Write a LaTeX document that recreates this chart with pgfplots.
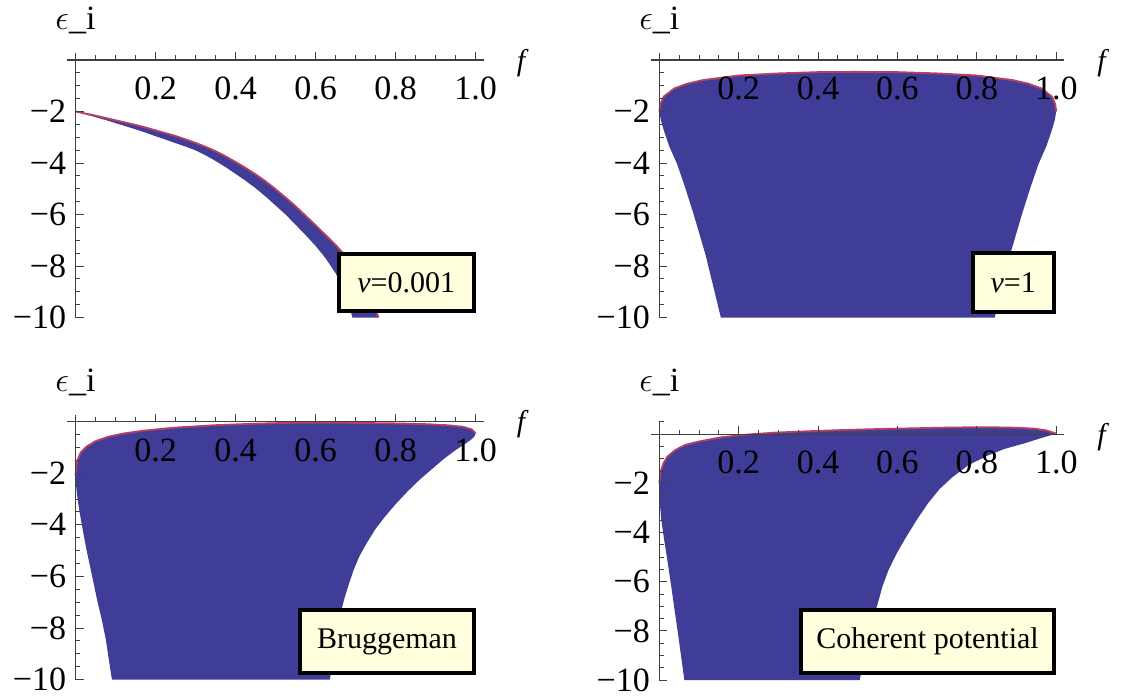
\documentclass[border=0pt]{standalone}
\usepackage{fontspec}
\setmainfont{Liberation Serif}
\usepackage{pgfplots}
\pgfplotsset{compat=1.18}

\definecolor{regfill}{HTML}{403D99}
\definecolor{regedge}{HTML}{B8405E}
\definecolor{boxfill}{HTML}{FFFFDD}

% #1 ymax, #2 height of the x axis in description coords, #3 shift of the y label
\pgfplotsset{
  epspanel/.style n args={3}{
    scale only axis, axis lines=middle,
    axis line style={-, black!75, line width=0.6pt},
    xmin=-0.02, xmax=1.02, ymin=-10, ymax=#1,
    xtick={0.2,0.4,0.6,0.8,1.0}, xticklabels={0.2,0.4,0.6,0.8,1.0},
    minor xtick={0.05,0.1,0.15,0.25,0.3,0.35,0.45,0.5,0.55,0.65,0.7,0.75,0.85,0.9,0.95},
    ytick={-10,-8,-6,-4,-2}, yticklabels={−10,−8,−6,−4,−2},
    minor ytick={-9.5,-9,-8.5,-7.5,-7,-6.5,-5.5,-5,-4.5,-3.5,-3,-2.5,-1.5,-1,-0.5,0.5},
    tick align=inside,
    major tick length=4pt, minor tick length=2.3pt,
    tick style={black!75, line width=0.5pt},
    tick label style={font=\fontsize{17}{20}\selectfont},
    xticklabel style={anchor=north, yshift=-5pt},
    yticklabel style={anchor=east, xshift=-1.2pt},
    axis on top,
    xlabel={\textit{f}}, ylabel={$\epsilon$\_i},
    xlabel style={font=\fontsize{15}{18}\selectfont,
      at={(axis description cs:1,#2)}, anchor=center, xshift=19.5pt, yshift=-1.5pt},
    ylabel style={font=\fontsize{17}{20}\selectfont,
      at={(axis description cs:0.01923,1)}, anchor=base, yshift=#3, rotate=0},
  },
  region/.style={fill=regfill, draw=none},
  edge/.style={regedge, line width=0.9pt},
}

\begin{document}
\begin{tikzpicture}
\path[use as bounding box] (0,0) rectangle (563pt,349pt);

% nu = 0.001
\begin{axis}[epspanel={0.28}{0.9728}{11.5pt}, at={(33.75pt,190.25pt)}, anchor=south west,
  width=208.1pt, height=132.35pt]
\addplot[region] coordinates {
  (0,-2.00) (0.025,-2.08) (0.05,-2.16) (0.075,-2.25) (0.1,-2.34) (0.125,-2.43)
  (0.15,-2.52) (0.175,-2.62) (0.2,-2.73) (0.225,-2.84) (0.25,-2.95) (0.275,-3.08)
  (0.3,-3.22) (0.325,-3.37) (0.35,-3.54) (0.375,-3.74) (0.4,-3.96) (0.425,-4.19)
  (0.45,-4.44) (0.475,-4.71) (0.5,-5.02) (0.525,-5.34) (0.55,-5.68) (0.575,-6.05)
  (0.6,-6.42) (0.625,-6.8) (0.65,-7.18) (0.675,-7.62) (0.7,-8.15) (0.72,-8.7)
  (0.74,-9.35) (0.757,-10)
  (0.692,-10) (0.675,-9.07) (0.65,-8.28) (0.625,-7.7) (0.6,-7.22) (0.575,-6.8)
  (0.55,-6.4) (0.525,-6.0) (0.5,-5.65) (0.475,-5.3) (0.45,-4.98) (0.425,-4.69)
  (0.4,-4.42) (0.375,-4.16) (0.35,-3.92) (0.325,-3.7) (0.3,-3.51) (0.275,-3.36)
  (0.25,-3.23) (0.225,-3.09) (0.2,-2.96) (0.175,-2.82) (0.15,-2.69) (0.125,-2.57)
  (0.1,-2.45) (0.075,-2.33) (0.05,-2.22) (0.025,-2.11) (0,-2.0)} -- cycle;
\addplot[edge] coordinates {
  (0,-2.00) (0.025,-2.08) (0.05,-2.16) (0.075,-2.25) (0.1,-2.34) (0.125,-2.43)
  (0.15,-2.52) (0.175,-2.62) (0.2,-2.73) (0.225,-2.84) (0.25,-2.95) (0.275,-3.08)
  (0.3,-3.22) (0.325,-3.37) (0.35,-3.54) (0.375,-3.74) (0.4,-3.96) (0.425,-4.19)
  (0.45,-4.44) (0.475,-4.71) (0.5,-5.02) (0.525,-5.34) (0.55,-5.68) (0.575,-6.05)
  (0.6,-6.42) (0.625,-6.8) (0.65,-7.18) (0.675,-7.62) (0.7,-8.15) (0.72,-8.7)
  (0.74,-9.35) (0.757,-10)};
\end{axis}

% nu = 1
\begin{axis}[epspanel={0.28}{0.9728}{11.5pt}, at={(325.7pt,190.25pt)}, anchor=south west,
  width=206.4pt, height=132.35pt]
\addplot[region] coordinates {
  (0,-2) (0.003,-1.7) (0.011,-1.42) (0.038,-1.10) (0.07,-0.92) (0.11,-0.78) (0.2,-0.6)
  (0.3,-0.52) (0.4,-0.47) (0.5,-0.46) (0.6,-0.47) (0.7,-0.52) (0.8,-0.6) (0.89,-0.78)
  (0.93,-0.92) (0.962,-1.10) (0.989,-1.42) (0.997,-1.7) (1,-2)
  (0.996,-2.35) (0.989,-2.72) (0.975,-3.35) (0.955,-4.05) (0.935,-4.95) (0.915,-5.92)
  (0.9,-6.7) (0.883,-7.6) (0.864,-8.8) (0.845,-10)
  (0.155,-10) (0.136,-8.8) (0.117,-7.6) (0.1,-6.7) (0.085,-5.92) (0.065,-4.95)
  (0.045,-4.05) (0.025,-3.35) (0.011,-2.72) (0.004,-2.35) (0,-2)} -- cycle;
\addplot[edge] coordinates {
  (0,-2) (0.003,-1.7) (0.011,-1.42) (0.038,-1.10) (0.07,-0.92) (0.11,-0.78) (0.2,-0.6)
  (0.3,-0.52) (0.4,-0.47) (0.5,-0.46) (0.6,-0.47) (0.7,-0.52) (0.8,-0.6) (0.89,-0.78)
  (0.93,-0.92) (0.962,-1.10) (0.989,-1.42) (0.997,-1.7) (1,-2)};
\end{axis}

% Bruggeman
\begin{axis}[epspanel={0.26}{0.9747}{11.6pt}, at={(33.75pt,9.2pt)}, anchor=south west,
  width=208.1pt, height=132.35pt]
\addplot[region] coordinates {
  (0,-2.1) (0.002,-1.75) (0.005,-1.49) (0.013,-1.2) (0.0275,-0.97) (0.05,-0.76)
  (0.081,-0.59) (0.12,-0.46) (0.17,-0.35) (0.25,-0.23) (0.347,-0.14) (0.45,-0.08)
  (0.524,-0.05) (0.6,-0.04) (0.7,-0.05) (0.8,-0.07) (0.879,-0.1) (0.93,-0.14)
  (0.968,-0.2) (0.99,-0.3) (1.0,-0.45)
  (0.998,-0.55) (0.99,-0.68) (0.975,-0.85) (0.95,-1.1) (0.92,-1.45) (0.89,-1.85)
  (0.86,-2.25) (0.83,-2.7) (0.8,-3.2) (0.775,-3.65) (0.75,-4.15) (0.728,-4.7)
  (0.71,-5.2) (0.695,-5.75) (0.683,-6.3) (0.672,-6.85) (0.662,-7.45) (0.653,-8.1)
  (0.646,-8.75) (0.64,-9.4) (0.636,-10)
  (0.091,-10) (0.083,-9.2) (0.076,-8.46) (0.066,-7.7) (0.054,-6.91) (0.041,-5.95)
  (0.0275,-4.97) (0.017,-4.1) (0.009,-3.4) (0.004,-2.85) (0.001,-2.4) (0,-2.1)} -- cycle;
\addplot[edge] coordinates {
  (0,-2.1) (0.002,-1.75) (0.005,-1.49) (0.013,-1.2) (0.0275,-0.97) (0.05,-0.76)
  (0.081,-0.59) (0.12,-0.46) (0.17,-0.35) (0.25,-0.23) (0.347,-0.14) (0.45,-0.08)
  (0.524,-0.05) (0.6,-0.04) (0.7,-0.05) (0.8,-0.07) (0.879,-0.1) (0.93,-0.14)
  (0.968,-0.2) (0.99,-0.3) (1.0,-0.45)};
\end{axis}

% Coherent potential
\begin{axis}[epspanel={0.5}{0.9524}{15pt}, at={(325.7pt,8.95pt)}, anchor=south west,
  width=206.4pt, height=129.15pt]
\addplot[region] coordinates {
  (0,-2) (0.002,-1.7) (0.0045,-1.46) (0.01,-1.2) (0.02,-0.92) (0.04,-0.65) (0.065,-0.44)
  (0.1,-0.3) (0.155,-0.13) (0.22,-0.02) (0.29,0.06) (0.38,0.12) (0.47,0.17) (0.56,0.21)
  (0.65,0.24) (0.74,0.27) (0.83,0.28) (0.9,0.26) (0.946,0.22) (0.975,0.15) (1.0,0.02)
  (0.96,-0.17) (0.919,-0.38) (0.87,-0.6) (0.829,-0.86) (0.78,-1.25) (0.739,-1.74)
  (0.705,-2.25) (0.676,-2.83) (0.648,-3.5) (0.622,-4.18) (0.598,-4.85) (0.577,-5.54)
  (0.562,-6.2) (0.55,-6.9) (0.535,-7.7) (0.523,-8.53) (0.513,-9.3) (0.505,-10)
  (0.063,-10) (0.055,-9.05) (0.047,-8.11) (0.038,-7.1) (0.029,-6.08) (0.02,-5.1)
  (0.011,-4.18) (0.005,-3.5) (0.002,-2.95) (0.0005,-2.45) (0,-2)} -- cycle;
\addplot[edge] coordinates {
  (0,-2) (0.002,-1.7) (0.0045,-1.46) (0.01,-1.2) (0.02,-0.92) (0.04,-0.65) (0.065,-0.44)
  (0.1,-0.3) (0.155,-0.13) (0.22,-0.02) (0.29,0.06) (0.38,0.12) (0.47,0.17) (0.56,0.21)
  (0.65,0.24) (0.74,0.27) (0.83,0.28) (0.9,0.26) (0.946,0.22) (0.975,0.15) (1.0,0.02)};
\end{axis}

% labels in boxes
\tikzset{tag/.style={draw=black, line width=2pt, fill=boxfill, inner sep=0pt,
  font=\fontsize{15}{18}\selectfont}}
\node[tag, minimum width=67.5pt, minimum height=28.8pt] at (203.1pt,207.75pt) {\textit{ν}=0.001};
\node[tag, minimum width=40.5pt, minimum height=29.7pt] at (506.6pt,207.8pt) {\textit{ν}=1};
\node[tag, minimum width=87pt, minimum height=31.3pt] at (193.5pt,28.15pt) {Bruggeman};
\node[tag, minimum width=126.9pt, minimum height=31.3pt] at (463.75pt,28.15pt) {Coherent potential};
\end{tikzpicture}
\end{document}
